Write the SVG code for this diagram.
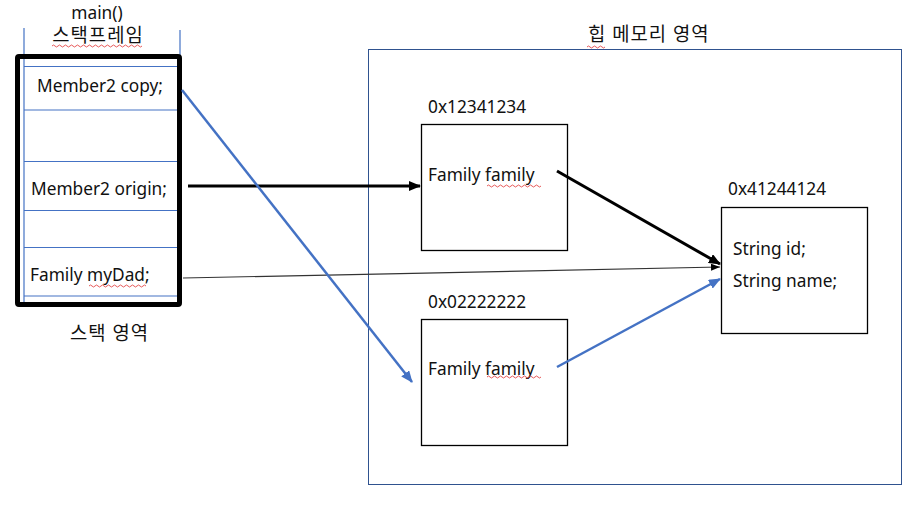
<svg xmlns="http://www.w3.org/2000/svg" width="920" height="508" viewBox="0 0 920 508">
<defs>
<style>
text{font-family:"Noto Sans","Noto Sans CJK KR",sans-serif;font-size:17.3px;fill:#111}
.ko{font-size:18.8px;letter-spacing:1px}
.box{fill:#fff;stroke:#000;stroke-width:1.3}
.slot{stroke:#4472C4;stroke-width:1.2}
.sq{fill:none;stroke:#e03030;stroke-width:0.8}
</style>
<marker id="ab" markerWidth="12" markerHeight="10" refX="11" refY="5" orient="auto" markerUnits="userSpaceOnUse"><path d="M0,0 L12,5 L0,10 z" fill="#000"/></marker>
<marker id="at" markerWidth="9" markerHeight="7" refX="9" refY="3.5" orient="auto" markerUnits="userSpaceOnUse"><path d="M0,0 L9,3.5 L0,7 z" fill="#000"/></marker>
<marker id="abl" markerWidth="12" markerHeight="10" refX="11" refY="5" orient="auto" markerUnits="userSpaceOnUse"><path d="M0,0 L12,5 L0,10 z" fill="#4472C4"/></marker>
</defs>
<rect width="920" height="508" fill="#fff"/>

<g id="stack-frame">
<text x="97" y="19" text-anchor="middle">main()</text>
<text class="ko" x="98" y="42" text-anchor="middle">스택프레임</text>
<path class="sq" d="M52,46 q1.5,-2 3,0 t3,0 t3,0 t3,0 t3,0 t3,0 t3,0 t3,0 t3,0 t3,0 t3,0 t3,0 t3,0 t3,0 t3,0 t3,0 t3,0 t3,0 t3,0 t3,0 t3,0 t3,0 t3,0 t3,0 t3,0 t3,0 t3,0 t3,0 t3,0 t3,0"/>
<line class="slot" x1="24" y1="28" x2="24" y2="305"/>
<line class="slot" x1="180" y1="30" x2="180" y2="56"/>
<line class="slot" x1="24" y1="66.5" x2="178" y2="66.5"/>
<line class="slot" x1="24" y1="110" x2="178" y2="110"/>
<line class="slot" x1="24" y1="161.5" x2="178" y2="161.5"/>
<line class="slot" x1="24" y1="210.5" x2="178" y2="210.5"/>
<line class="slot" x1="24" y1="247.5" x2="178" y2="247.5"/>
<line class="slot" x1="24" y1="296" x2="178" y2="296"/>
<rect x="17.5" y="56.5" width="162" height="248" fill="none" stroke="#000" stroke-width="5" rx="1.5"/>
<text x="37" y="92">Member2 copy;</text>
<text x="31" y="195">Member2 origin;</text>
<text x="30" y="281">Family myDad;</text>
<path class="sq" d="M89,286 q1.5,-2 3,0 t3,0 t3,0 t3,0 t3,0 t3,0 t3,0 t3,0 t3,0 t3,0 t3,0 t3,0 t3,0 t3,0 t3,0 t3,0 t3,0 t3,0 t3,0"/>
<text class="ko" x="70" y="340">스택 영역</text>
</g>

<g id="heap">
<rect x="368.5" y="49.5" width="533" height="435" fill="none" stroke="#2F528F" stroke-width="1"/>
<text class="ko" x="588" y="41">힙 메모리 영역</text>
<path class="sq" d="M587,47 q1.5,-2 3,0 t3,0 t3,0 t3,0 t3,0 t3,0"/>
</g>

<g id="family1">
<text x="428" y="113">0x12341234</text>
<rect class="box" x="421.5" y="124.5" width="146" height="126"/>
<text x="428" y="181">Family family</text>
<path class="sq" d="M487,186 q1.5,-2 3,0 t3,0 t3,0 t3,0 t3,0 t3,0 t3,0 t3,0 t3,0 t3,0 t3,0 t3,0 t3,0 t3,0 t3,0 t3,0 t3,0 t3,0"/>
</g>

<g id="family2">
<text x="428" y="308">0x02222222</text>
<rect class="box" x="421.5" y="319.5" width="146" height="126"/>
<text x="428" y="375">Family family</text>
<path class="sq" d="M487,377 q1.5,-2 3,0 t3,0 t3,0 t3,0 t3,0 t3,0 t3,0 t3,0 t3,0 t3,0 t3,0 t3,0 t3,0 t3,0 t3,0 t3,0 t3,0 t3,0"/>
</g>

<g id="member">
<text x="728" y="195">0x41244124</text>
<rect class="box" x="721.5" y="207.5" width="146" height="126"/>
<text x="733" y="255">String id;</text>
<text x="733" y="287">String name;</text>
</g>

<g id="connectors">
<line x1="188" y1="186" x2="420" y2="186" stroke="#000" stroke-width="3" marker-end="url(#ab)"/>
<line x1="557" y1="171" x2="720" y2="264" stroke="#000" stroke-width="3" marker-end="url(#ab)"/>
<line x1="183" y1="278" x2="720" y2="267" stroke="#333" stroke-width="1.2" marker-end="url(#at)"/>
<line x1="182" y1="90" x2="412" y2="382" stroke="#4472C4" stroke-width="2.5" marker-end="url(#abl)"/>
<line x1="557" y1="367" x2="720" y2="279" stroke="#4472C4" stroke-width="2.5" marker-end="url(#abl)"/>
</g>
</svg>
